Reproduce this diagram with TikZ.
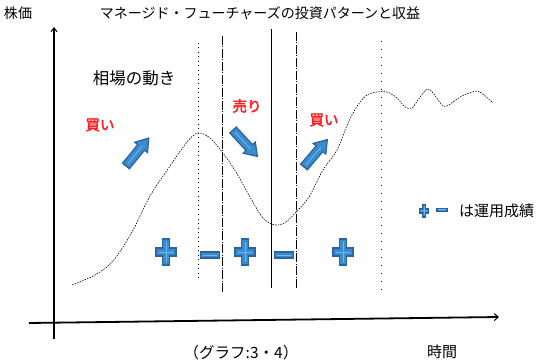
\documentclass[tikz,border=0pt]{standalone}
\usepackage{fontspec}
\newfontfamily\jp{Noto Sans CJK JP}
\newfontfamily\jpb{Noto Sans CJK JP}[FakeBold=2.5]
\usetikzlibrary{arrows.meta}
\definecolor{pmfill}{RGB}{58,140,205}
\definecolor{pmdraw}{RGB}{44,98,160}
\definecolor{pmlight}{RGB}{110,185,235}
\definecolor{redtxt}{RGB}{255,30,30}
\tikzset{
  pmstyle/.style={fill=pmfill,draw=pmdraw,line width=1.6pt,line join=miter},
  plussign/.pic={
    \filldraw[pmstyle] (-3.5,-13) -- (3.5,-13) -- (3.5,-3.8) -- (10,-3.8) -- (10,3.8) -- (3.5,3.8) -- (3.5,13) -- (-3.5,13) -- (-3.5,3.8) -- (-10,3.8) -- (-10,-3.8) -- (-3.5,-3.8) -- cycle;
    \draw[pmlight,line width=1pt] (0,-10) -- (0,10) (-7,0) -- (7,0);
  },
  minussign/.pic={
    \filldraw[pmstyle] (-9.5,-3) rectangle (9.5,3);
    \draw[pmlight,line width=1pt] (-7,0) -- (7,0);
  },
  blockarrow/.pic={
    \filldraw[pmstyle,line width=1.2pt] (0,-4.4) -- (24,-4.4) -- (24,-8.2) -- (36,0) -- (24,8.2) -- (24,4.4) -- (0,4.4) -- cycle;
    \draw[pmlight,line width=0.8pt] (3,0) -- (26,0);
  },
  axis/.style={line width=1.8pt,black},
  curve/.style={line width=0.6pt,dash pattern=on 1.5pt off 1.2pt},
  vdotA/.style={line width=0.8pt,dash pattern=on 1pt off 3.5pt},
  vdotB/.style={line width=0.9pt,dash pattern=on 1pt off 7pt},
  vdashdot/.style={line width=0.8pt,dash pattern=on 9pt off 1.5pt on 1pt off 1.5pt},
  vsolid/.style={line width=0.9pt},
  blacktxt/.style={font=\jp\fontsize{14}{16}\selectfont,inner sep=0pt},
  redlabel/.style={font=\jpb\fontsize{14.5}{16}\selectfont,text=redtxt,inner sep=0pt},
}
\begin{document}
\begin{tikzpicture}[x=1pt,y=-1pt]
\useasboundingbox[fill=white] (0,0) rectangle (540,363);

% axes
\coordinate (yb) at (54,339);
\coordinate (yt) at (54,27);
\coordinate (xl) at (29,323);
\coordinate (xr) at (499,317);
\draw[axis,-{Straight Barb[length=4pt,width=6pt,line width=1pt]}] (yb) -- (yt);
\draw[axis,-{Straight Barb[length=4pt,width=7pt,line width=1pt]}] (xl) -- (xr);

% vertical lines
\draw[vdotA] (198,43) -- (198,280);
\draw[vdashdot] (222,36) -- (222,293);
\draw[vsolid] (271,29) -- (271,288);
\draw[vdashdot] (296,32) -- (296,288);
\draw[vdotB] (381,41) -- (381,297);

% price curve
\draw[curve] plot[smooth,tension=0.55] coordinates {
 (72,285) (95,275) (113,261) (132,232) (150,196) (170,166) (187,142) (198,133)
 (210,138) (222,152) (236,172) (250,197) (263,218) (275,225) (286,222) (296,212)
 (309,197) (323,170) (337,150) (348,123) (358,105) (367,95) (377,92) (387,92)
 (397,98) (405,107) (412,108) (418,100) (427,89) (433,93) (442,105) (447,106)
 (453,102) (462,96) (472,92) (480,92) (493,103)};

% arrows
\pic[rotate=50.8] at (126,166) {blockarrow};
\pic[rotate=-47.3] at (233,130) {blockarrow};
\pic[rotate=49.6] at (304,167) {blockarrow};

% plus/minus
\pic at (166,252) {plussign};
\pic at (210,255) {minussign};
\pic at (245,252) {plussign};
\pic at (284,255) {minussign};
\pic at (343,252) {plussign};
\pic[scale=0.45] at (424,211) {plussign};
\pic[scale=0.55] at (442,210) {minussign};

% texts
\node[blacktxt] (kabuka) at (18,13) {株価};
\node[blacktxt] (title) at (260,13) {マネージド・フューチャーズの投資パターンと収益};
\node[blacktxt,font=\jp\fontsize{16.5}{18}\selectfont] (soba) at (134,78) {相場の動き};
\node[redlabel] (kai1) at (100,125) {買い};
\node[redlabel] (uri) at (247,106) {売り};
\node[redlabel] (kai2) at (324,120) {買い};
\node[blacktxt,font=\jp\fontsize{15}{17}\selectfont,anchor=west] (legend) at (459,211) {は運用成績};
\node[blacktxt,font=\jp\fontsize{15.5}{17}\selectfont] (graph) at (241,353) {（グラフ:3・4）};
\node[blacktxt,font=\jp\fontsize{15}{17}\selectfont] (jikan) at (442,352) {時間};
\end{tikzpicture}
\end{document}
